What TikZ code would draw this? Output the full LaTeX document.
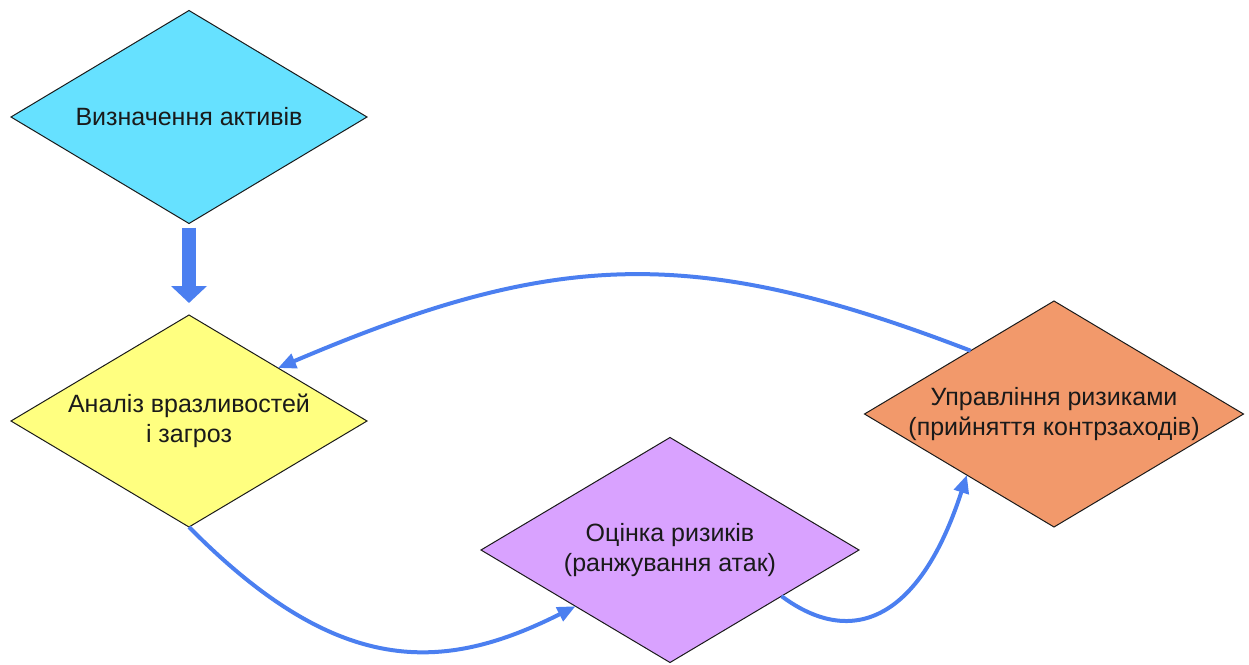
\documentclass[tikz,border=0pt]{standalone}
\usepackage{fontspec}
\setmainfont{Liberation Sans}
\usetikzlibrary{shapes.geometric,arrows.meta,calc}

\definecolor{cyanfill}{HTML}{66E1FF}
\definecolor{yellowfill}{HTML}{FFFF80}
\definecolor{violetfill}{HTML}{D9A2FF}
\definecolor{orangefill}{HTML}{F2996B}
\definecolor{flowblue}{HTML}{4B7FF0}
\definecolor{inkdark}{HTML}{1A1A1A}

\tikzset{
  stage/.style={diamond, draw=inkdark, line width=1pt, inner sep=0pt, outer sep=0pt},
  caption/.style={align=center, text=inkdark, inner sep=0pt,
                  font=\fontsize{25}{30}\selectfont},
  flow/.style={draw=flowblue, line width=4pt,
               -{Triangle[length=18pt,width=15pt]}},
  bigflow/.style={draw=flowblue, line width=14pt,
                  -{Triangle[length=17pt,width=35pt]}},
}

\begin{document}
\begin{tikzpicture}[x=1pt,y=-1pt]
\useasboundingbox (0,0) rectangle (1249,664);

% process stages
\node[stage, fill=cyanfill,   minimum width=356pt, minimum height=213pt] (d1) at (189,117) {};
\node[stage, fill=yellowfill, minimum width=356pt, minimum height=212pt] (d2) at (189,421) {};
\node[stage, fill=violetfill, minimum width=378pt, minimum height=225pt] (d3) at (670,550) {};
\node[stage, fill=orangefill, minimum width=379pt, minimum height=226pt] (d4) at (1054,414) {};

\node[caption] (t1) at (d1.center) {Визначення активів};
\node[caption] (t2) at (d2.center) {Аналіз вразливостей\\і загроз};
\node[caption] (t3) at (d3.center) {Оцінка ризиків\\(ранжування атак)};
\node[caption] (t4) at (d4.center) {Управління ризиками\\(прийняття контрзаходів)};

% connection points on the diamond edges
\coordinate (d3out) at ($(d3.south)!0.59!(d3.east)$);
\coordinate (d4in)  at ($(d4.west)!0.54!(d4.south)$);
\coordinate (d4out) at ($(d4.west)!0.56!(d4.north)$);

% flows
\draw[bigflow, shorten <=4pt, shorten >=12pt] (d1.south) -- (d2.north);
\draw[flow] (d2.south) .. controls (338,678) and (443,673) .. (d3.south west);
\draw[flow] (d3out) .. controls (854,650) and (921,617) .. (d4in);
\draw[flow] (d4out) .. controls (691,243) and (553,251) .. (d2.north east);
\end{tikzpicture}
\end{document}
